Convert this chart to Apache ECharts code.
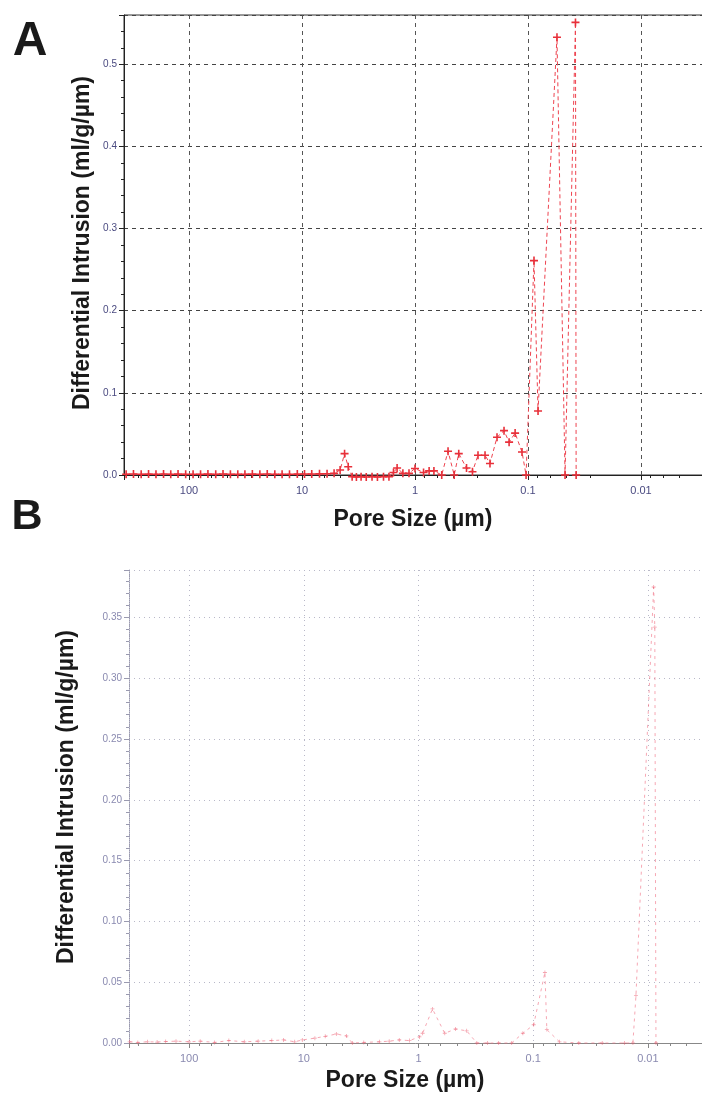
<!DOCTYPE html>
<html><head><meta charset="utf-8">
<script src="https://cdn.jsdelivr.net/npm/echarts@6/dist/echarts.min.js"></script>
<style>html,body{margin:0;padding:0;background:#fff}#c{width:702px;height:1097px}</style>
</head><body><div id="c"></div>
<script>
// ---- data ----
const xTickLabels = ['100', '10', '1', '0.1', '0.01'];
const yTickLabelsA = ['0.0', '0.1', '0.2', '0.3', '0.4', '0.5'];
const yTickLabelsB = ['0.00', '0.05', '0.10', '0.15', '0.20', '0.25', '0.30', '0.35'];

// Panel A: pore size (µm) and differential intrusion (ml/g/µm)
const poreA = [360, 310, 265, 228, 196, 168, 145, 125, 107, 92, 79, 68, 58, 50, 43, 37, 32, 27.5, 23.6, 20.3,
  17.4, 15, 12.9, 11, 9.5, 8.2, 7, 6, 5.2, 4.6, 4.2, 3.9, 3.6, 3.3, 3.0, 2.7, 2.4, 2.15, 1.9, 1.7,
  1.55, 1.44, 1.28, 1.13, 1.0, 0.84, 0.75, 0.68, 0.58, 0.51, 0.45, 0.41, 0.35, 0.31, 0.277, 0.24, 0.217,
  0.188, 0.163, 0.147, 0.13, 0.113, 0.104, 0.0885, 0.0815, 0.0554, 0.047, 0.038, 0.0375];
const intrA = [0.001, 0.0012, 0.001, 0.0011, 0.001, 0.0012, 0.001, 0.0011, 0.001, 0.0009, 0.001, 0.0011, 0.001, 0.0012, 0.001, 0.0009, 0.001, 0.0011, 0.001, 0.0012,
  0.001, 0.0009, 0.001, 0.0011, 0.0012, 0.0013, 0.0014, 0.0016, 0.002, 0.006, 0.026, 0.010, -0.002, -0.0025, -0.002, -0.0025, -0.002, -0.0025, -0.002, -0.002,
  0.003, 0.0085, 0.002, 0.002, 0.008, 0.003, 0.005, 0.005, 0.0, 0.029, 0.0, 0.026, 0.0085, 0.004, 0.024, 0.024, 0.014,
  0.046, 0.054, 0.040, 0.051, 0.028, 0.0, 0.261, 0.078, 0.533, 0.0, 0.551, 0.0];

// Panel B
const poreB = [330, 280, 230, 190, 160, 130, 100, 80, 60, 45, 33, 25, 19, 15, 12, 10.3, 8, 6.5, 5.2, 4.25,
  3.77, 3.0, 2.19, 1.8, 1.47, 1.2, 0.98, 0.92, 0.755, 0.59, 0.475, 0.38, 0.31, 0.25, 0.2, 0.154, 0.123, 0.099,
  0.079, 0.076, 0.059, 0.04, 0.025, 0.016, 0.0135, 0.0127, 0.0089, 0.0087, 0.0085];
const intrB = [0.001, 0.0005, 0.001, 0.0008, 0.0012, 0.0015, 0.001, 0.0015, 0.0005, 0.002, 0.001, 0.0015, 0.002, 0.0025, 0.001, 0.0025, 0.004, 0.0055, 0.0074, 0.0058,
  0.0, 0.0005, 0.001, 0.0015, 0.0025, 0.002, 0.005, 0.008, 0.028, 0.008, 0.0115, 0.010, 0.0, 0.0, 0.0, 0.0, 0.008, 0.015,
  0.058, 0.011, 0.001, 0.0, 0.0, 0.0, 0.0, 0.039, 0.375, 0.342, 0.0];

// ---- chart ----
const FONT = '"Liberation Sans", Arial, sans-serif';
const PLUS = 'path://M4,0H6V4H10V6H6V10H4V6H0V4H4Z';

function xLabel(v) {
  const r = +(+v).toPrecision(6);
  const s = String(r);
  return xTickLabels.indexOf(s) >= 0 ? s : '';
}
function yLabel(list, dec) {
  return function (v) {
    const s = (+v).toFixed(dec);
    return (Math.abs(+s - v) < 1e-9 && list.indexOf(s) >= 0) ? s : '';
  };
}

function xAxisCfg(grid, min, max, lineColor, labelColor, splitStyle) {
  return {
    type: 'log', logBase: 10, gridIndex: grid, inverse: true, min: min, max: max,
    axisLine: { show: true, lineStyle: { color: lineColor, width: 1 } },
    axisTick: { show: true, inside: false, length: 5, lineStyle: { color: lineColor } },
    minorTick: { show: true, splitNumber: 5, length: 3, lineStyle: { color: lineColor } },
    axisLabel: { show: true, color: labelColor, fontSize: 11, fontFamily: FONT, margin: 10, formatter: xLabel },
    splitLine: { show: true, lineStyle: splitStyle }
  };
}
function yAxisCfg(grid, max, interval, list, dec, lineColor, lineType, labelColor, splitStyle) {
  return {
    type: 'value', gridIndex: grid, min: 0, max: max, interval: interval,
    axisLine: { show: true, lineStyle: { color: lineColor, width: 1, type: lineType } },
    axisTick: { show: true, inside: false, length: 5, lineStyle: { color: lineColor } },
    minorTick: { show: true, splitNumber: 5, length: 3, lineStyle: { color: lineColor } },
    axisLabel: { show: true, color: labelColor, fontSize: 10, fontFamily: FONT, margin: 7, formatter: yLabel(list, dec) },
    splitLine: { show: true, lineStyle: splitStyle }
  };
}

const chart = echarts.init(document.getElementById('c'), null, { renderer: 'canvas' });
chart.setOption({
  animation: false,
  backgroundColor: '#ffffff',
  grid: [
    { left: 124, right: -2, top: 15, bottom: 622, outerBoundsMode: 'none', containLabel: false, show: true, borderColor: '#333', borderWidth: 1 },
    { left: 129, right: -2, top: 570, bottom: 54, outerBoundsMode: 'none', containLabel: false }
  ],
  xAxis: [
    xAxisCfg(0, 0.00277, 376, '#222', '#4a4a80', { color: '#555', width: 1, type: [4, 4] }),
    xAxisCfg(1, 0.00324, 334, '#888', '#8a8ab0', { color: '#b8b8c8', width: 1, type: [1, 4] })
  ],
  yAxis: [
    yAxisCfg(0, 0.56, 0.1, yTickLabelsA, 1, '#222', 'solid', '#4a4a80', { color: '#444', width: 1, type: [4, 4] }),
    yAxisCfg(1, 0.389, 0.05, yTickLabelsB, 2, '#9a9ab0', 'dotted', '#8a8ab0', { color: '#b8b8c8', width: 1, type: [1, 4] })
  ],
  series: [
    {
      type: 'line', xAxisIndex: 0, yAxisIndex: 0, clip: false,
      data: poreA.map((p, i) => [p, intrA[i]]),
      symbol: PLUS, symbolSize: 8, showAllSymbol: true,
      itemStyle: { color: '#e8303a' },
      lineStyle: { color: '#ee4450', width: 1, type: [4, 3] }
    },
    {
      type: 'line', xAxisIndex: 1, yAxisIndex: 1, clip: false,
      data: poreB.map((p, i) => [p, intrB[i]]),
      symbol: PLUS, symbolSize: 4, showAllSymbol: true,
      itemStyle: { color: 'rgba(235,90,110,0.55)' },
      lineStyle: { color: 'rgba(240,110,130,0.6)', width: 1, type: [3, 4] }
    }
  ],
  graphic: [
    { type: 'text', x: 30, y: 42, style: { text: 'A', font: 'bold 48px ' + FONT, fill: '#1a1a1a', align: 'center', verticalAlign: 'middle' } },
    { type: 'text', x: 27, y: 517, style: { text: 'B', font: 'bold 43px ' + FONT, fill: '#1a1a1a', align: 'center', verticalAlign: 'middle' } },
    { type: 'text', x: 83, y: 243, rotation: Math.PI / 2, style: { text: 'Differential Intrusion (ml/g/µm)', font: 'bold 23px ' + FONT, fill: '#1a1a1a', align: 'center', verticalAlign: 'middle' } },
    { type: 'text', x: 413, y: 520, style: { text: 'Pore Size (µm)', font: 'bold 23px ' + FONT, fill: '#1a1a1a', align: 'center', verticalAlign: 'middle' } },
    { type: 'text', x: 67, y: 797, rotation: Math.PI / 2, style: { text: 'Differential Intrusion (ml/g/µm)', font: 'bold 23px ' + FONT, fill: '#1a1a1a', align: 'center', verticalAlign: 'middle' } },
    { type: 'text', x: 405, y: 1081, style: { text: 'Pore Size (µm)', font: 'bold 23px ' + FONT, fill: '#1a1a1a', align: 'center', verticalAlign: 'middle' } }
  ]
});
</script>
</body></html>
